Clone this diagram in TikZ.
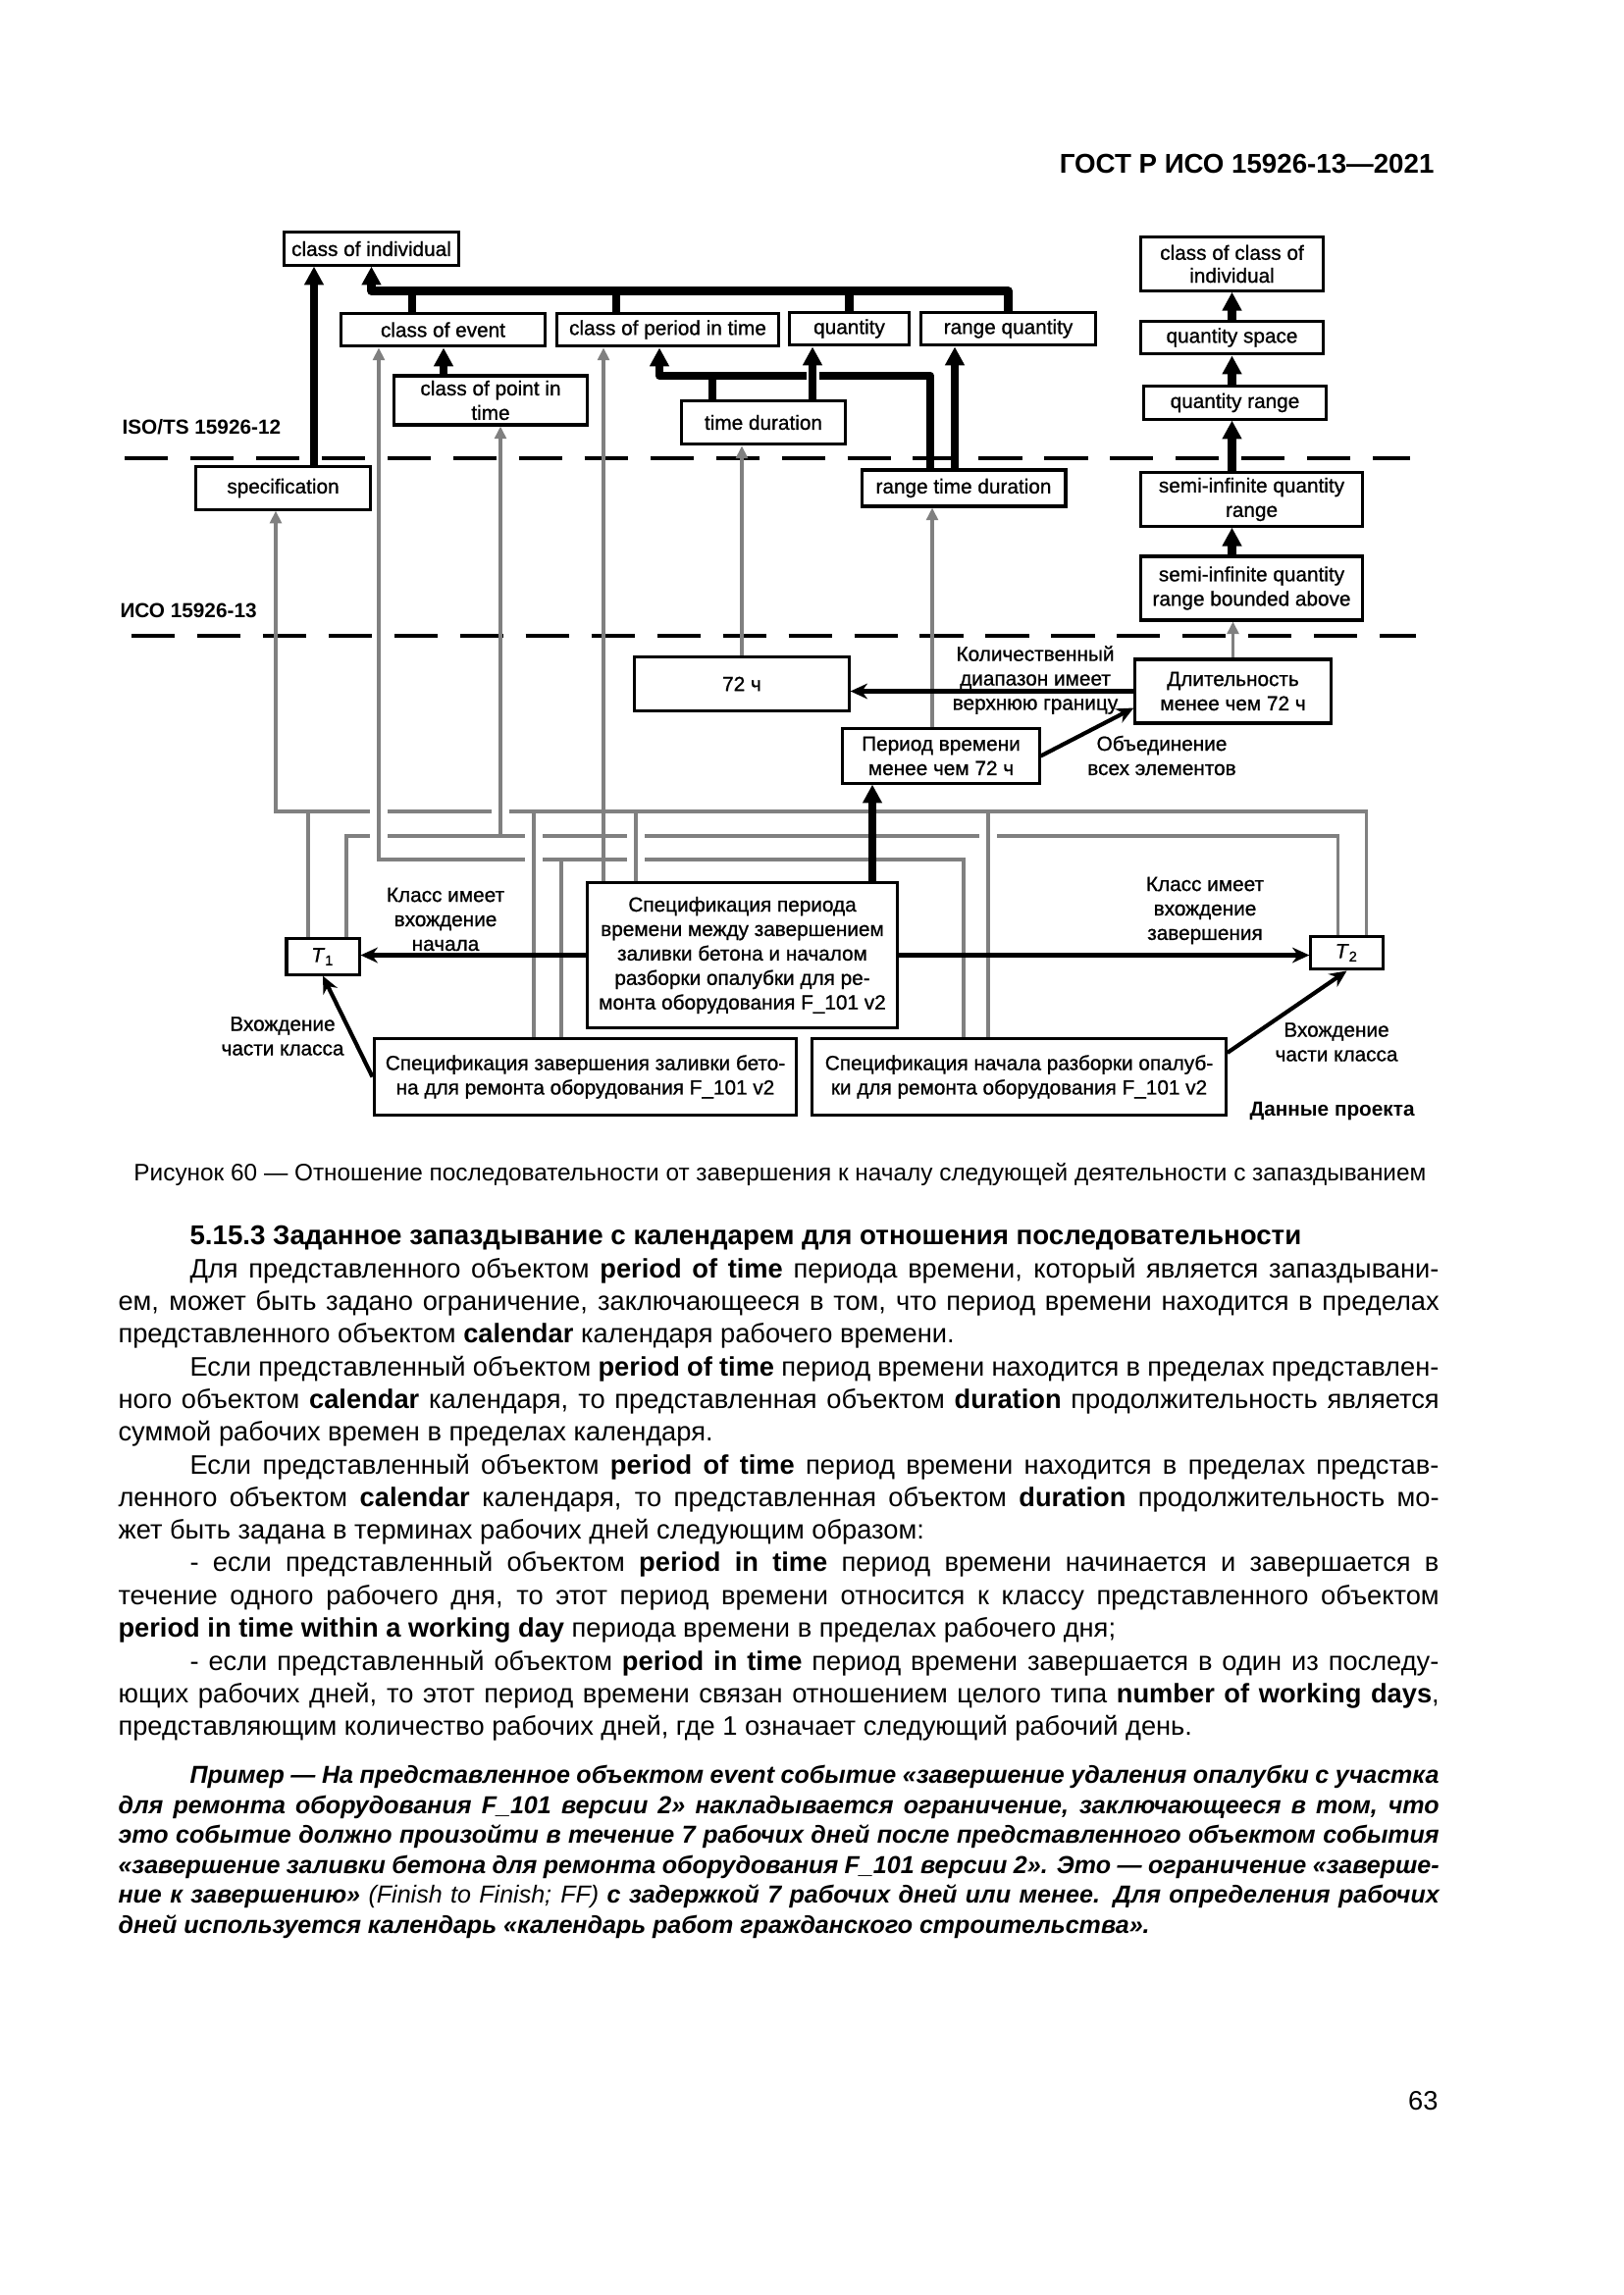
\documentclass[tikz,border=0pt]{standalone}
\usepackage{fontspec}
\setmainfont{Liberation Sans}
\newfontfamily\diagfont[FakeBold=0.9]{Liberation Sans}
\usetikzlibrary{arrows.meta}
\usetikzlibrary{calc}

\newcommand{\fullline}[1]{\makebox[170.9mm][s]{#1}}
\newcommand{\indline}[1]{\makebox[161.6mm][s]{#1}}

\tikzset{
  box/.style={draw, line width=1.1pt, inner sep=1pt, align=center, font=\diagfont\fontsize{7.5}{9}\selectfont},
  lbl/.style={align=center, inner sep=0, font=\diagfont\fontsize{7.5}{9}\selectfont},
  level/.style={anchor=west, inner sep=0, font=\bfseries\fontsize{7.5}{9}\selectfont},
  levelline/.style={line width=1.4pt, dash pattern=on 5.6mm off 2.9mm},
  bigline/.style={line width=3pt, line join=round},
  bigarrow/.style={bigline, -{Triangle[length=2.4mm,width=2.4mm]}},
  greyline/.style={draw=black!50, line width=1.1pt},
  greyarrow/.style={greyline, -{Triangle[length=1.6mm,width=1.5mm]}},
  thinarrow/.style={line width=1.5pt, -{Stealth[length=2.2mm,width=2mm]}},
  txt/.style={anchor=base west, inner sep=0, font=\fontsize{9.85}{12}\selectfont},
  extxt/.style={txt, font=\bfseries\itshape\fontsize{9.05}{11}\selectfont}
}

\begin{document}
\begin{tikzpicture}[x=0.12696mm, y=-0.12696mm]
    \useasboundingbox (0,0) rectangle (1654,2339);

    \node[anchor=base east, inner sep=0, font=\bfseries\fontsize{10}{12}\selectfont] (header) at (1462,177) {ГОСТ Р ИСО 15926-13—2021};

    % levels
    \draw[levelline] (127,467) -- (1437,467);
    \draw[levelline] (134,648) -- (1443,648);
    \node[level] (iso12) at (124,435) {ISO/TS 15926-12};
    \node[level] (iso13) at (122,622) {ИСО 15926-13};

    % ISO/TS 15926-12
    \node[box, minimum width=22.7mm, minimum height=4.2mm] (coi) at (378.5,253.5) {class of individual};
    \node[box, minimum width=26.5mm, minimum height=4.3mm] (coe) at (451.5,336) {class of event};
    \node[box, minimum width=28.8mm, minimum height=4.3mm] (copit) at (680.5,336) {class of period in time};
    \node[box, minimum width=15.4mm, minimum height=4.3mm] (qty) at (865.5,335) {quantity};
    \node[box, minimum width=22.7mm, minimum height=4.3mm] (rq) at (1027.5,335) {range quantity};
    \node[box, minimum width=25.1mm, minimum height=6.35mm] (copt) at (500,408) {class of point in\\time};
    \node[box, minimum width=21.3mm, minimum height=5.7mm] (td) at (778,430.5) {time duration};
    \node[box, minimum width=22.7mm, minimum height=5.5mm] (spec) at (288.5,497.5) {specification};
    \node[box, minimum width=26.4mm, minimum height=4.7mm] (rtd) at (982,497.5) {range time duration};
    \node[box, minimum width=23.5mm, minimum height=6.9mm, font=\diagfont\fontsize{7.5}{8.4}\selectfont] (ccoi) at (1255.5,269) {class of class of\\individual};
    \node[box, minimum width=23.5mm, minimum height=4.3mm] (qs) at (1255.5,344) {quantity space};
    \node[box, minimum width=23.5mm, minimum height=4.2mm] (qr) at (1258.5,410.5) {quantity range};
    \node[box, minimum width=28.6mm, minimum height=6.9mm] (siqr) at (1275.5,509) {semi-infinite quantity\\range};
    \node[box, minimum width=28.6mm, minimum height=8.25mm] (siqrba) at (1275.5,599.5) {semi-infinite quantity\\range bounded above};

    % ISO 15926-13
    \node[box, minimum width=27.7mm, minimum height=6.9mm] (h72) at (756,697) {72 ч};
    \node[box, minimum width=25.3mm, minimum height=8.25mm] (dur) at (1256.5,704.5) {Длительность\\менее чем 72 ч};
    \node[box, minimum width=25.4mm, minimum height=7mm] (per) at (959,770.5) {Период времени\\менее чем 72 ч};

    % project data
    \node[box, minimum width=40mm, minimum height=18.7mm] (sp) at (756.5,973.5) {Спецификация периода\\времени между завершением\\заливки бетона и началом\\разборки опалубки для ре-\\монта оборудования F\_101 v2};
    \node[box, minimum width=9.4mm, minimum height=4.6mm] (t1) at (329,975) {\textit{T}\textsubscript{1}};
    \node[box, minimum width=9.3mm, minimum height=4.3mm] (t2) at (1372.5,971) {\textit{T}\textsubscript{2}};
    \node[box, minimum width=54.7mm, minimum height=10mm] (spc) at (596.5,1097.5) {Спецификация завершения заливки бето-\\на для ремонта оборудования F\_101 v2};
    \node[box, minimum width=53.5mm, minimum height=10mm] (sps) at (1038.5,1097.5) {Спецификация начала разборки опалуб-\\ки для ремонта оборудования F\_101 v2};

    % grey classification lines
    \coordinate (busA) at (0,827);
    \coordinate (busB) at (0,852);
    \coordinate (busC) at (0,876);
    \coordinate (gSpec) at ($(spec.south)+(-7.5,0)$);
    \coordinate (gT2a) at ($(t2.north)+(19.5,0)$);
    \coordinate (gT1a) at ($(t1.north)+(-15,0)$);
    \coordinate (gSpc) at ($(spc.north)+(-52.5,0)$);
    \coordinate (gSp) at ($(sp.north)+(-108.5,0)$);
    \coordinate (gSps) at ($(sps.north)+(-31.5,0)$);
    \coordinate (gT1b) at ($(t1.north)+(24,0)$);
    \coordinate (gT2b) at ($(t2.north)+(-9.5,0)$);
    \coordinate (gCopt) at ($(copt.south)+(10,0)$);
    \coordinate (gCoe) at ($(coe.south)+(-65.5,0)$);
    \coordinate (gSpsc) at ($(sps.north)+(-56.5,0)$);
    \coordinate (gSpcc) at ($(spc.north)+(-24.5,0)$);
    \coordinate (gSpP) at ($(sp.north)+(-141.5,0)$);
    \coordinate (gPer) at ($(per.north)+(-9,0)$);

    \draw[greyarrow] (gT2a) |- (gSpec |- busA) -- (gSpec);
    \foreach \n in {gT1a,gSpc,gSp,gSps}
        \draw[greyline] (\n) -- (\n |- busA);
    \draw[greyline] (gT1b) |- (gT2b |- busB) -- (gT2b);
    \draw[greyarrow] (gCopt |- busB) -- (gCopt);
    \draw[greyarrow] (gSpsc) |- (gCoe |- busC) -- (gCoe);
    \draw[greyline] (gSpcc) -- (gSpcc |- busC);
    \draw[greyarrow] (gSpP) -- (gSpP |- copit.south);
    \draw[greyarrow] (h72.north) -- (h72.north |- td.south);
    \draw[greyarrow] (gPer) -- (gPer |- rtd.south);
    \draw[greyarrow] (dur.north) -- (dur.north |- siqrba.south);
    % line hops
    \foreach \v/\h in {gCoe/busA, gCoe/busB, gCopt/busA, gSpc/busB, gSpc/busC, gSp/busB, gSp/busC, gSps/busB} {
        \fill[white] ($(\v |- \h)+(-9,-3)$) rectangle ($(\v |- \h)+(9,3)$);
        \draw[greyline] ($(\v |- \h)+(0,-10)$) -- ($(\v |- \h)+(0,10)$);
    }

    % specialisation
    \coordinate (bus0) at ($(coi.south)+(0,25)$);
    \coordinate (bus1) at (0,383);
    \draw[bigarrow] (rq.north) |- (bus0) -- (coi.south);
    \coordinate (dCoe) at ($(coe.north)+(-31.5,0)$);
    \coordinate (dCopit) at ($(copit.north)+(-52.5,0)$);
    \foreach \n in {dCoe,dCopit,qty.north}
        \draw[bigline] (\n) -- (\n |- bus0);
    \coordinate (dSpec) at ($(spec.north)+(31.5,0)$);
    \draw[bigarrow] (dSpec) -- (dSpec |- coi.south);
    \coordinate (dCopt) at ($(copt.north)+(-48,0)$);
    \draw[bigarrow] (dCopt) -- (dCopt |- coe.south);
    \coordinate (dRtd) at ($(rtd.north)+(-34,0)$);
    \coordinate (dCopit2) at ($(copit.south)+(-8.5,0)$);
    \draw[bigarrow] (dRtd) |- (dCopit2 |- bus1) -- (dCopit2);
    \coordinate (dTd) at ($(td.north)+(-52,0)$);
    \draw[bigline] (dTd) -- (dTd |- bus1);
    \coordinate (dTdq) at ($(td.north)+(50,0)$);
    \fill[white] ($(dTdq |- bus1)+(-6.5,-6)$) rectangle ($(dTdq |- bus1)+(6.5,6)$);
    \draw[bigarrow] (dTdq) -- (dTdq |- qty.south);
    \coordinate (dRtd2) at ($(rtd.north)+(-9,0)$);
    \draw[bigarrow] (dRtd2) -- (dRtd2 |- rq.south);
    \draw[bigarrow] (qs.north) -- (ccoi.south);
    \draw[bigarrow] (qs.south |- qr.north) -- (qs.south);
    \draw[bigarrow] (qs.south |- siqr.north) -- (qs.south |- qr.south);
    \draw[bigarrow] (qs.south |- siqrba.north) -- (qs.south |- siqr.south);
    \coordinate (dSp) at ($(sp.north)+(132.5,0)$);
    \draw[bigarrow] (dSp) -- (dSp |- per.south);

    % relations
    \draw[thinarrow] (dur.west) -- (dur.west -| h72.east);
    \draw[thinarrow] (per.east) -- ($(dur.south west)!0.25!(dur.north west)$);
    \draw[thinarrow] (sp.west) -- (sp.west -| t1.east);
    \draw[thinarrow] (sp.east) -- (sp.east -| t2.west);
    \draw[thinarrow] (spc.west) -- (t1.south);
    \draw[thinarrow] ($(sps.north east)!0.2!(sps.south east)$) -- (t2.south);

    \node[lbl] (lQty) at (1055,693) {Количественный\\диапазон имеет\\верхнюю границу};
    \node[lbl] (lUnion) at (1184,770) {Объединение\\всех элементов};
    \node[lbl] (lStart) at (454,937) {Класс имеет\\вхождение\\начала};
    \node[lbl] (lEnd) at (1228,928) {Класс имеет\\вхождение\\завершения};
    \node[lbl] (lPart1) at (288,1056) {Вхождение\\части класса};
    \node[lbl] (lPart2) at (1362,1062) {Вхождение\\части класса};
    \node[level] (lProj) at (1273,1133) {Данные проекта};

    % page text
    \node[anchor=base, inner sep=0, font=\fontsize{8.8}{11}\selectfont] (caption) at (795,1203) {Рисунок 60 — Отношение последовательности от завершения к началу следующей деятельности с запаздыванием};
    \node[txt, font=\bfseries\fontsize{10}{12}\selectfont] (heading) at (193,1268) {5.15.3 Заданное запаздывание с календарем для отношения последовательности};
    \node[txt] (l1) at (193,1302) {\indline{Для представленного объектом \textbf{period of time} периода времени, который является запаздывани-}};
    \node[txt] (l2) at (120,1335) {\fullline{ем, может быть задано ограничение, заключающееся в том, что период времени находится в пределах}};
    \node[txt] (l3) at (120,1368) {представленного объектом \textbf{calendar} календаря рабочего времени.};
    \node[txt] (l4) at (193,1402) {\indline{Если представленный объектом \textbf{period of time} период времени находится в пределах представлен-}};
    \node[txt] (l5) at (120,1435) {\fullline{ного объектом \textbf{calendar} календаря, то представленная объектом \textbf{duration} продолжительность является}};
    \node[txt] (l6) at (120,1468) {суммой рабочих времен в пределах календаря.};
    \node[txt] (l7) at (193,1502) {\indline{Если представленный объектом \textbf{period of time} период времени находится в пределах представ-}};
    \node[txt] (l8) at (120,1535) {\fullline{ленного объектом \textbf{calendar} календаря, то представленная объектом \textbf{duration} продолжительность мо-}};
    \node[txt] (l9) at (120,1568) {жет быть задана в терминах рабочих дней следующим образом:};
    \node[txt] (l10) at (193,1601) {\indline{- если представленный объектом \textbf{period in time} период времени начинается и завершается в}};
    \node[txt] (l11) at (120,1635) {\fullline{течение одного рабочего дня, то этот период времени относится к классу представленного объектом}};
    \node[txt] (l12) at (120,1668) {\textbf{period in time within a working day} периода времени в пределах рабочего дня;};
    \node[txt] (l13) at (193,1702) {\indline{- если представленный объектом \textbf{period in time} период времени завершается в один из последу-}};
    \node[txt] (l14) at (120,1735) {\fullline{ющих рабочих дней, то этот период времени связан отношением целого типа \textbf{number of working days},}};
    \node[txt] (l15) at (120,1768) {представляющим количество рабочих дней, где 1 означает следующий рабочий день.};

    \node[extxt] (e1) at (193,1817) {\indline{Пример — На представленное объектом event событие «завершение удаления опалубки с участка}};
    \node[extxt] (e2) at (120,1848) {\fullline{для ремонта оборудования F\_101 версии 2» накладывается ограничение, заключающееся в том, что}};
    \node[extxt] (e3) at (120,1878) {\fullline{это событие должно произойти в течение 7 рабочих дней после представленного объектом события}};
    \node[extxt] (e4) at (120,1909) {\fullline{«завершение заливки бетона для ремонта оборудования F\_101 версии 2». Это — ограничение «заверше-}};
    \node[extxt] (e5) at (120,1939) {\fullline{ние к завершению» {\mdseries(Finish to Finish; FF)} с задержкой 7 рабочих дней или менее. Для определения рабочих}};
    \node[extxt] (e6) at (120,1970) {дней используется календарь «календарь работ гражданского строительства».};

    \node[anchor=base east, inner sep=0, font=\fontsize{9.85}{12}\selectfont] (pagenum) at (1466,2150) {63};
\end{tikzpicture}
\end{document}
